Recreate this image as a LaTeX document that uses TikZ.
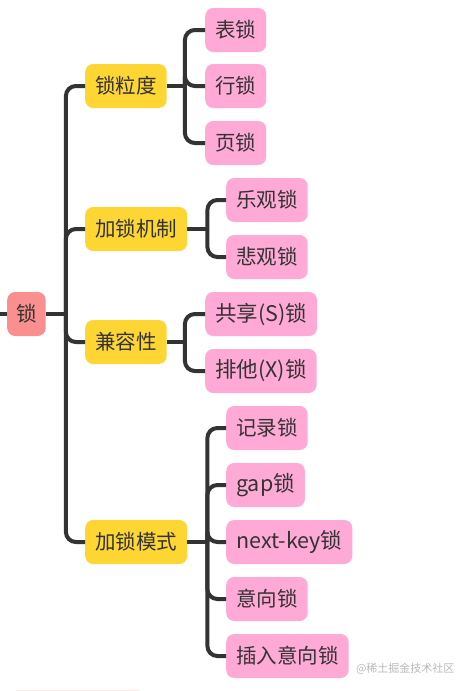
\documentclass[tikz,border=0pt]{standalone}
\usepackage{fontspec}
\setmainfont{Noto Sans CJK SC}
\usetikzlibrary{positioning}

\definecolor{rootred}{HTML}{FA8F8F}
\definecolor{catyellow}{HTML}{FDD633}
\definecolor{leafpink}{HTML}{FFAAD6}
\definecolor{linegray}{HTML}{333333}
\definecolor{markgray}{HTML}{B8B8B8}

\tikzset{
    box/.style={rounded corners=8pt,
        minimum height=44pt,
        inner xsep=10pt,
        inner ysep=0pt,
        anchor=west,
        text=linegray,
        font=\fontsize{20.5}{21}\selectfont},
    rootbox/.style={box, fill=rootred, inner xsep=9pt},
    catbox/.style={box, fill=catyellow},
    leafbox/.style={box, fill=leafpink},
    latinbox/.style={leafbox, font=\fontsize{21.5}{22}\selectfont},
    branch/.style={draw=linegray, line width=4pt, rounded corners=10pt}
}

\begin{document}
\begin{tikzpicture}[x=1pt,y=-1pt]
        \useasboundingbox (0,0) rectangle (473,691);

        % Root
        \node [rootbox] (lock) at (7,314) {锁};
        \coordinate (in) at (0,314);

        % Categories
        \node [catbox] (grain) at (85,86) {锁粒度};
        \node [catbox] (mech) at (85,229) {加锁机制};
        \node [catbox] (compat) at (85,342) {兼容性};
        \node [catbox] (mode) at (85,542) {加锁模式};

        % Leaves
        \node [leafbox] (table) at (205,30) {表锁};
        \node [leafbox] (row) at (205,86) {行锁};
        \node [leafbox] (page) at (205,143) {页锁};

        \node [leafbox] (optim) at (226,200) {乐观锁};
        \node [leafbox] (pessim) at (226,257) {悲观锁};

        \node [latinbox] (shared) at (205,314) {共享(S)锁};
        \node [latinbox] (excl) at (205,371) {排他(X)锁};

        \node [leafbox] (record) at (226,428) {记录锁};
        \node [latinbox] (gap) at (226,485) {gap锁};
        \node [latinbox] (nextkey) at (226,542) {next-key锁};
        \node [leafbox] (intent) at (226,599) {意向锁};
        \node [leafbox] (insert) at (226,656) {插入意向锁};

        % Connectors
        \draw [branch] (in) -- (lock.west);
        \coordinate (jlock) at ([xshift=20pt]lock.east);
        \draw [branch] (lock.east) -- (jlock);
        \foreach \c in {grain, mech, compat, mode}
            \draw [branch] (jlock) |- (\c.west);

        \coordinate (jgrain) at ([xshift=18pt]grain.east);
        \draw [branch] (grain.east) -- (jgrain);
        \foreach \c in {table, row, page}
            \draw [branch] (jgrain) |- (\c.west);

        \coordinate (jmech) at ([xshift=20pt]mech.east);
        \draw [branch] (mech.east) -- (jmech);
        \foreach \c in {optim, pessim}
            \draw [branch] (jmech) |- (\c.west);

        \coordinate (jcompat) at ([xshift=18pt]compat.east);
        \draw [branch] (compat.east) -- (jcompat);
        \foreach \c in {shared, excl}
            \draw [branch] (jcompat) |- (\c.west);

        \coordinate (jmode) at ([xshift=20pt]mode.east);
        \draw [branch] (mode.east) -- (jmode);
        \foreach \c in {record, gap, nextkey, intent, insert}
            \draw [branch] (jmode) |- (\c.west);

        % Watermark
        \node [text=markgray, font=\fontsize{11}{12}\selectfont, anchor=east]
            (mark) at (458,669) {@稀土掘金技术社区};
        \fill [rootred!20] (16,689.5) rectangle (140,691);
\end{tikzpicture}
\end{document}
